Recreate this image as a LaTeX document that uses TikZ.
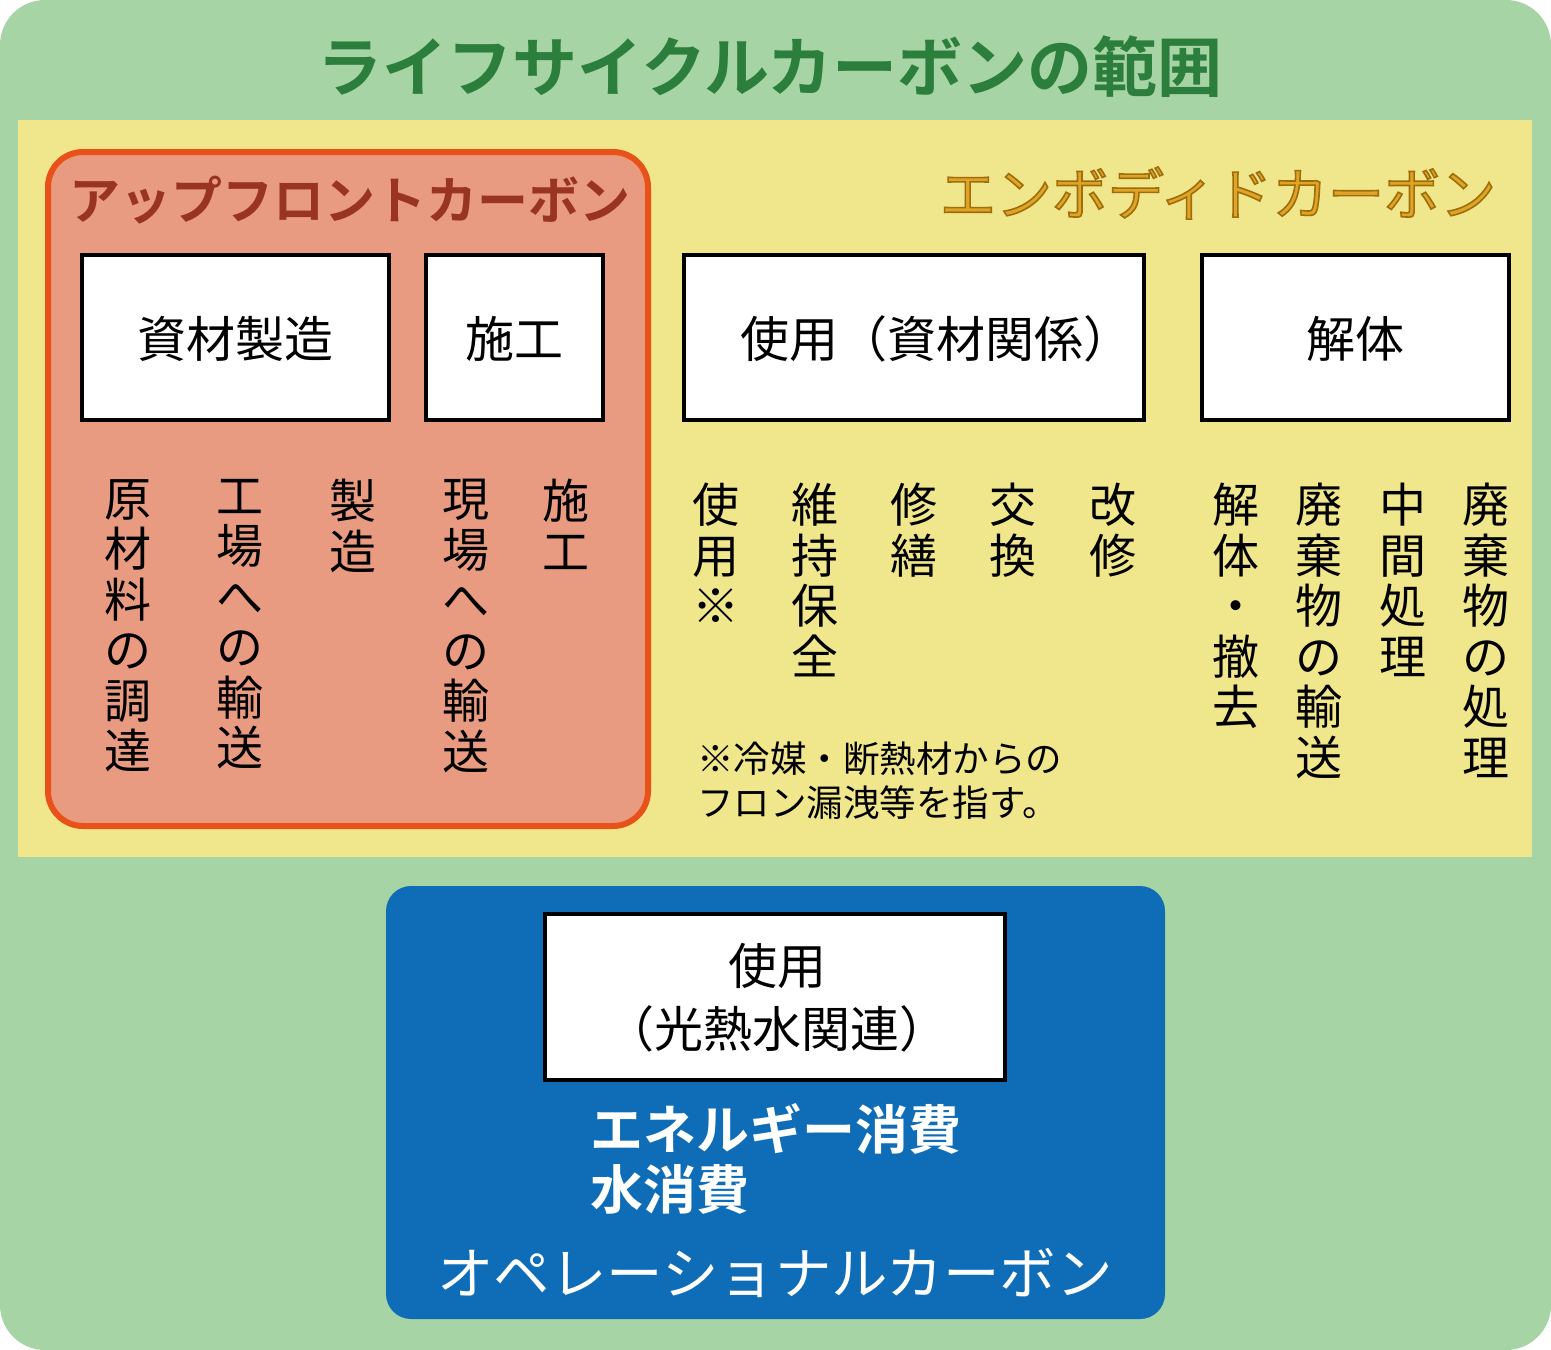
\documentclass[tikz,border=0pt]{standalone}
\usepackage{fontspec}
\newfontfamily\jp[BoldFont={Noto Sans CJK JP Bold}]{Noto Sans CJK JP}
\definecolor{bggreen}{HTML}{A7D4A4}
\definecolor{titlegreen}{HTML}{2B7E3B}
\definecolor{khaki}{HTML}{F0E68C}
\definecolor{upfill}{HTML}{E89B80}
\definecolor{upline}{HTML}{E8521A}
\definecolor{upred}{HTML}{993322}
\definecolor{gold}{HTML}{E0A526}
\definecolor{opblue}{HTML}{0F6DB8}
\newcommand\outlinedtext[1]{\special{pdf:literal direct 1.6 w 0.62 0.43 0.05 RG 2 Tr}#1\special{pdf:literal direct 0 Tr}}
\begin{document}
\begin{tikzpicture}[x=1pt,y=-1pt,
  every node/.style={font=\jp, inner sep=0pt},
  stagebox/.style={draw=black, line width=4pt, fill=white},
  boxlabel/.style={font=\jp\fontsize{49}{50}\selectfont, text=black},
  vtext/.style={font=\jp\fontsize{47}{50.5}\selectfont, align=center, anchor=north, text=black},
  notetext/.style={font=\jp\fontsize{36.5}{44}\selectfont, align=left, anchor=north west, text=black}]
\useasboundingbox (0,0) rectangle (1551,1350);
% outer green
\fill[bggreen, rounded corners=45pt] (0,0) rectangle (1551,1350);
\node[font=\jp\bfseries\fontsize{65}{68}\selectfont, text=titlegreen] (title) at (770,67) {ライフサイクルカーボンの範囲};
% embodied area
\fill[khaki] (18,120) rectangle (1532,857);
\node[font=\jp\fontsize{56}{60}\selectfont, text=gold] (emb) at (1218,193) {\outlinedtext{エンボディドカーボン}};
% upfront area
\draw[upline, fill=upfill, line width=6pt, rounded corners=35pt] (48,152) rectangle (648,826);
\node[font=\jp\bfseries\fontsize{51}{55}\selectfont, text=upred] (upf) at (350,200) {アップフロントカーボン};
% stage boxes
\draw[stagebox] (82,255) rectangle (389,420);
\node[boxlabel] (b1) at (235.5,339) {資材製造};
\draw[stagebox] (426,255) rectangle (603,420);
\node[boxlabel] (b2) at (514.5,339) {施工};
\draw[stagebox] (684,255) rectangle (1144,420);
\node[boxlabel] (b3) at (936,339) {使用（資材関係）};
\draw[stagebox] (1202,255) rectangle (1509,420);
\node[boxlabel] (b4) at (1355.5,339) {解体};
% vertical texts upfront
\node[vtext] (v1) at (128,479) {原\\材\\料\\の\\調\\達};
\node[vtext] (v2) at (240,479) {工\\場\\へ\\の\\輸\\送};
\node[vtext] (v3) at (353,479) {製\\造};
\node[vtext] (v4) at (466,479) {現\\場\\へ\\の\\輸\\送};
\node[vtext] (v5) at (566,479) {施\\工};
% vertical texts use
\node[vtext] (v6) at (716,483) {使\\用\\※};
\node[vtext] (v7) at (815,483) {維\\持\\保\\全};
\node[vtext] (v8) at (914,483) {修\\繕};
\node[vtext] (v9) at (1013,483) {交\\換};
\node[vtext] (v10) at (1113,483) {改\\修};
% vertical texts demolition
\node[vtext] (v11) at (1236,483) {解\\体\\・\\撤\\去};
\node[vtext] (v12) at (1319,483) {廃\\棄\\物\\の\\輸\\送};
\node[vtext] (v13) at (1403,483) {中\\間\\処\\理};
\node[vtext] (v14) at (1486,483) {廃\\棄\\物\\の\\処\\理};
% note
\node[notetext] (note) at (697,742) {※冷媒・断熱材からの\\フロン漏洩等を指す。};
% operational
\fill[opblue, rounded corners=25pt] (386,886) rectangle (1165,1319);
\draw[stagebox] (545,914) rectangle (1005,1080);
\node[boxlabel, align=center, font=\jp\fontsize{49}{63}\selectfont] (b5) at (777,998) {使用\\（光熱水関連）};
\node[font=\jp\bfseries\fontsize{53}{60}\selectfont, text=white, align=left, anchor=north west] (en) at (590,1103) {エネルギー消費\\水消費};
\node[font=\jp\fontsize{56.5}{60}\selectfont, text=white] (op) at (775,1273) {オペレーショナルカーボン};
\end{tikzpicture}
\end{document}
